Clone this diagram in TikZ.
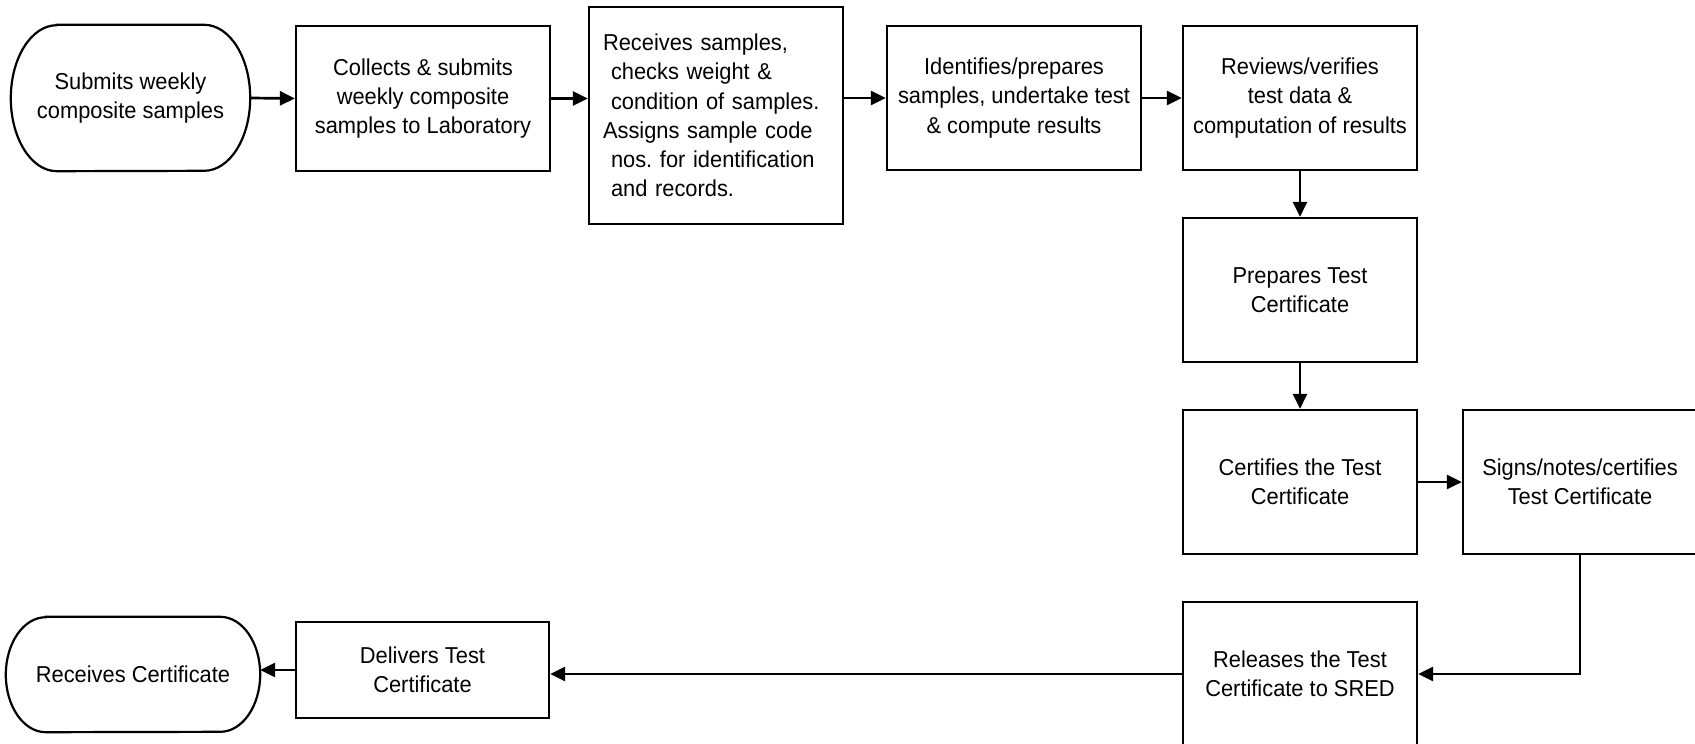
\documentclass[tikz,border=0pt]{standalone}
\usepackage{fontspec}
\setmainfont[FakeStretch=0.95]{Liberation Sans}
\usetikzlibrary{arrows.meta}
\begin{document}
\frenchspacing
\begin{tikzpicture}[x=1pt,y=-1pt,
  txt/.style={font=\fontsize{23}{29.3}\selectfont},
  box/.style={draw, line width=2.2pt, rectangle, inner sep=0pt, align=center, txt},
  term/.style={inner sep=0pt, align=center, txt},
  arr/.style={line width=2.7pt, -{Triangle[length=15pt,width=14pt]}},
  conn/.style={line width=2.2pt}]
\useasboundingbox (0,0) rectangle (1695,744);
% terminators (text nodes, outline drawn below)
\node[term, minimum width=239pt, minimum height=146pt] (t1) at (130.5,98) {Submits weekly\\composite samples};
\node[term, minimum width=254pt, minimum height=115pt] (t2) at (133,674.5) {Receives Certificate};
\foreach \n/\a/\b in {t1/46/73,t2/40/57.5}{
  \draw[conn] ([xshift=\a pt]\n.north west) -- ([xshift=-\a pt]\n.north east)
    arc[start angle=90, end angle=-90, x radius=\a pt, y radius=\b pt]
    -- ([xshift=\a pt]\n.south west)
    arc[start angle=270, end angle=90, x radius=\a pt, y radius=\b pt] -- cycle;
}
\node[box, minimum width=254pt, minimum height=145pt] (b2) at (423,98.5) {Collects \& submits\\weekly composite\\samples to Laboratory};
\node[box, minimum width=254pt, minimum height=217pt, text width=226pt, align=left] (b3) at (716,115.5)
  {Receives samples,\\\hspace*{8pt}checks weight \&\\\hspace*{8pt}condition of samples.\\Assigns sample code\\\hspace*{8pt}nos. for identification\\\hspace*{8pt}and records.};
\node[box, minimum width=254pt, minimum height=144pt] (b4) at (1014,98) {Identifies/prepares\\samples, undertake test\\\& compute results};
\node[box, minimum width=234pt, minimum height=144pt] (b5) at (1300,98) {Reviews/verifies\\test data \&\\computation of results};
\node[box, minimum width=234pt, minimum height=144pt] (b6) at (1300,290) {Prepares Test\\Certificate};
\node[box, minimum width=234pt, minimum height=144pt] (b7) at (1300,482) {Certifies the Test\\Certificate};
\node[box, minimum width=234pt, minimum height=144pt] (b8) at (1580,482) {Signs/notes/certifies\\Test Certificate};
\node[box, minimum width=234pt, minimum height=144pt] (b9) at (1300,674) {Releases the Test\\Certificate to SRED};
\node[box, minimum width=253pt, minimum height=96pt] (b10) at (422.5,670) {Delivers Test\\Certificate};
% connectors
\draw[arr] (t1.east) -- (b2.west);
\draw[arr] (b2.east) -- (b2.east -| b3.west);
\draw[arr] (b4.west -| b3.east) -- (b4.west);
\draw[arr] (b4.east) -- (b5.west);
\draw[arr] (b5.south) -- (b6.north);
\draw[arr] (b6.south) -- (b7.north);
\draw[arr] (b7.east) -- (b8.west);
\draw[arr] (b8.south) |- (b9.east);
\draw[arr] (b9.west) -- (b9.west -| b10.east);
\draw[arr] (b10.west) -- (b10.west -| t2.east);
\end{tikzpicture}
\end{document}
